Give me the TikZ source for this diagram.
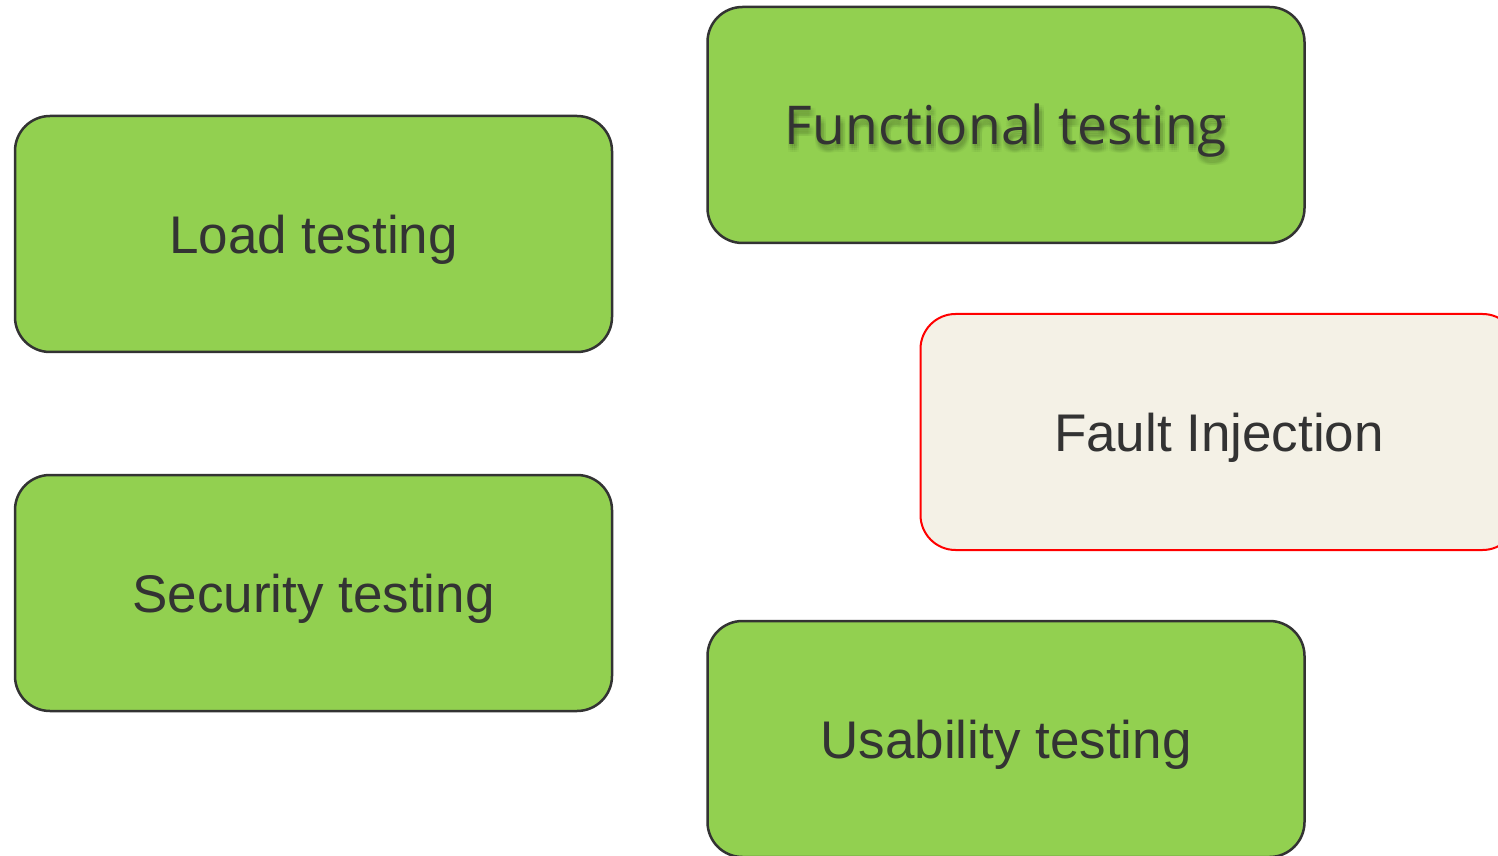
\documentclass[tikz,border=0pt]{standalone}
\usepackage{fontspec}
\setmainfont{Liberation Sans}
\newfontfamily\opensans{Open Sans}
\definecolor{boxgreen}{HTML}{92D050}
\definecolor{boxedge}{HTML}{333333}
\definecolor{boxtext}{HTML}{333333}
\definecolor{faultfill}{HTML}{F4F1E6}
\definecolor{faultedge}{HTML}{FF0000}
\tikzset{
  testbox/.style={draw=boxedge, fill=boxgreen, line width=2.5pt,
    rounded corners=35pt, minimum width=597pt, minimum height=236pt,
    inner sep=0pt, text=boxtext, text depth=0pt},
  faultbox/.style={testbox, draw=faultedge, fill=faultfill, line width=2pt},
  labelfont/.style={font=\fontsize{53}{60}\selectfont},
  openfont/.style={font=\opensans\fontsize{53.5}{60}\selectfont},
}
\begin{document}
\begin{tikzpicture}[x=1pt,y=1pt]
  \useasboundingbox (0,0) rectangle (1498,855);
  \clip (0,0) rectangle (1498,855);
  \fill[white] (0,0) rectangle (1498,855);

  % green test-type boxes
  \node[testbox, labelfont] (load) at (313.5,621) {Load testing};
  \node[testbox, labelfont] (security) at (313.5,262) {Security testing};
  \node[testbox, labelfont] (usability) at (1006,116) {Usability testing};
  \node[testbox] (functional) at (1006,730) {};

  % soft drop shadow behind the Open Sans label
  \foreach \dx in {0,2,4,6} {
    \foreach \dy in {1,3,5,7} {
      \node[openfont, text=black, opacity=0.022, inner sep=0pt]
        (fshadow\dx\dy) at (1007+\dx-2,722-\dy+1) {Functional testing};
    }
  }
  \node[openfont, text=boxtext, inner sep=0pt] (functionallabel)
    at (1006,724) {Functional testing};

  % highlighted box running off the right edge
  \node[faultbox, labelfont] (fault) at (1219,423) {Fault Injection};
\end{tikzpicture}
\end{document}
